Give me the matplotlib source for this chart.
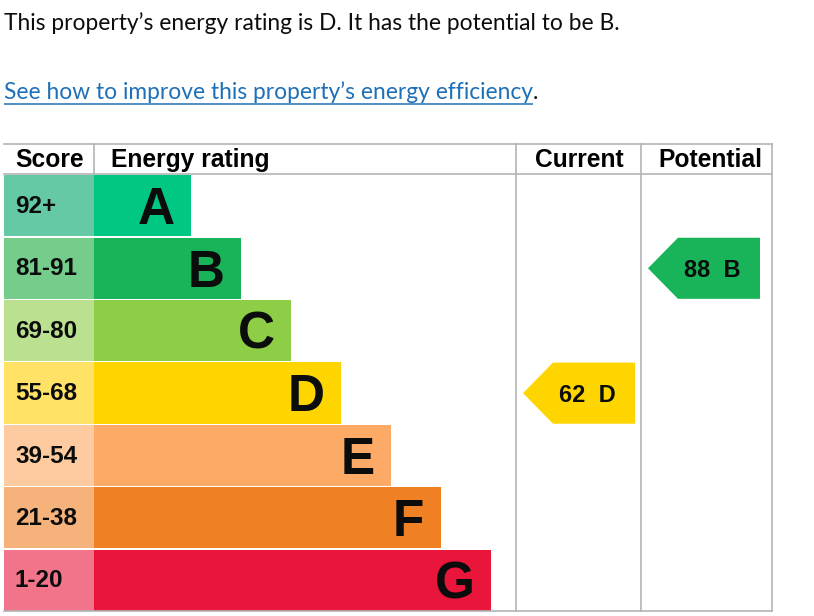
import matplotlib
matplotlib.use("Agg")
import matplotlib.pyplot as plt
from matplotlib.patches import Polygon

# ---- data ----
bands = ['A', 'B', 'C', 'D', 'E', 'F', 'G']
score_ranges = ['92+', '81-91', '69-80', '55-68', '39-54', '21-38', '1-20']
band_colors = ['#00c781', '#19b459', '#8dce46', '#ffd500', '#fcaa65', '#ef8023', '#e9153b']
score_colors = ['#66c9a6', '#75cc8b', '#bbe090', '#ffe266', '#fdcb9f', '#f5b27b', '#f2748a']
current_score = 62
current_band = 'D'
potential_score = 88
potential_band = 'B'
headers = ['Score', 'Energy rating', 'Current', 'Potential']
intro_text = "This property\u2019s energy rating is D. It has the potential to be B."
link_text = "See how to improve this property\u2019s energy efficiency"

# ---- layout (pixels) ----
W, H = 814, 616
fig = plt.figure(figsize=(W / 100, H / 100), dpi=100)
ax = fig.add_axes([0, 0, 1, 1])
ax.set_xlim(0, W)
ax.set_ylim(H, 0)
ax.axis('off')

tbl_left, tbl_right = 4, 772
col_score_r, col_rating_r, col_cur_r = 94, 516, 641
hdr_top, hdr_bot = 144, 174
tbl_bot = 611
row_h = (tbl_bot - hdr_bot) / len(bands)
bar_w0, bar_step = 96.5, 50
line_col = '#b1b4b6'
font = 'Liberation Sans'
body_fs = 16.4

# intro texts
ax.text(4, 30, intro_text, fontsize=body_fs, family='Lato', color='#0b0c0c', va='baseline', ha='left')
t = ax.text(4, 99, link_text, fontsize=body_fs, family='Lato', color='#1d70b8', va='baseline', ha='left')
fig.canvas.draw()
bb = t.get_window_extent()
link_end = bb.x1
ax.plot([4, link_end], [103.5, 103.5], color='#1d70b8', lw=1.1, solid_capstyle='butt')
ax.text(link_end, 99, '.', fontsize=body_fs, family='Lato', color='#0b0c0c', va='baseline', ha='left')

# grid lines
lw = 1.2
ax.plot([tbl_left, tbl_right], [hdr_top, hdr_top], color=line_col, lw=lw)
ax.plot([tbl_left, tbl_right], [hdr_bot, hdr_bot], color=line_col, lw=lw)
ax.plot([tbl_left, tbl_right], [tbl_bot, tbl_bot], color=line_col, lw=lw)
ax.plot([col_score_r, col_score_r], [hdr_top, hdr_bot], color=line_col, lw=lw)
for x in (col_rating_r, col_cur_r, tbl_right):
    ax.plot([x, x], [hdr_top, tbl_bot], color=line_col, lw=lw)

# headers
hy = 167
hfs = 17.7
ax.text(15, hy, headers[0], fontsize=hfs, fontweight='bold', family=font, va='baseline')
ax.text(111, hy, headers[1], fontsize=hfs, fontweight='bold', family=font, va='baseline')
ax.text(579.5, hy, headers[2], fontsize=hfs, fontweight='bold', family=font, va='baseline', ha='center')
ax.text(710, hy, headers[3], fontsize=hfs, fontweight='bold', family=font, va='baseline', ha='center')

# bands
n = len(bands)
centers = [hdr_bot + row_h * (i + 0.5) + 0.5 for i in range(n)]
widths = [bar_w0 + bar_step * i for i in range(n)]
ax.barh(centers, [col_score_r - tbl_left] * n, left=tbl_left, height=row_h - 1.3,
        color=score_colors, linewidth=0)
ax.barh(centers, widths, left=col_score_r, height=row_h - 1.3, color=band_colors, linewidth=0)

letter_fs = 37
score_fs = 17.5
for i in range(n):
    cy = centers[i]
    ax.text(col_score_r + widths[i] - 16, cy + 0.716 * letter_fs * 100 / 72 / 2, bands[i],
            fontsize=letter_fs, fontweight='bold', family=font, ha='right', va='baseline', color='#0b0c0c')
    ax.text(15, cy + 0.716 * score_fs * 100 / 72 / 2 - 1.5, score_ranges[i],
            fontsize=score_fs, fontweight='bold', family=font, ha='left', va='baseline', color='#0b0c0c')

# arrows
arrow_fs = 17
def arrow(x_tip, x_right, band, score):
    i = bands.index(band)
    top = hdr_bot + row_h * i + 1.3
    bot = hdr_bot + row_h * (i + 1)
    cy = (top + bot) / 2
    shoulder = x_tip + 30
    poly = Polygon([(x_tip, cy), (shoulder, top), (x_right, top), (x_right, bot), (shoulder, bot)],
                   closed=True, facecolor=band_colors[i], edgecolor='none')
    ax.add_patch(poly)
    ax.text(x_right - 47.5, cy + 0.716 * arrow_fs * 100 / 72 / 2, f"{score}  {band}", fontsize=arrow_fs,
            fontweight='bold', family=font, ha='center', va='baseline', color='#0b0c0c')

arrow(523, 635, current_band, current_score)
arrow(648, 760, potential_band, potential_score)

fig.savefig('out.png', dpi=100)
